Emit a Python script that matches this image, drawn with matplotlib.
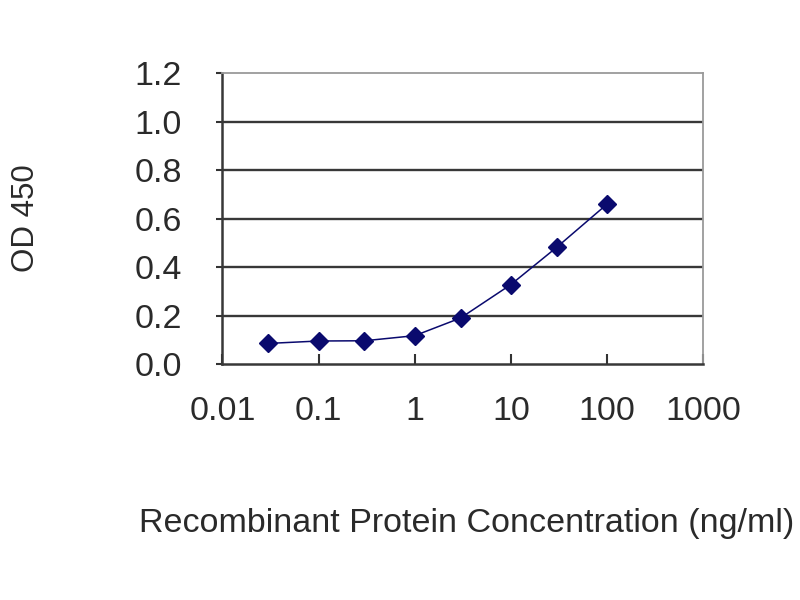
import matplotlib
matplotlib.use("Agg")
import matplotlib.pyplot as plt
from matplotlib.ticker import FixedLocator, FixedFormatter, NullLocator

plt.rcParams['font.family'] = ['Liberation Sans', 'DejaVu Sans']

# Data
concentration = [0.03, 0.1, 0.3, 1, 3, 10, 30, 100]
od450 = [0.085, 0.095, 0.096, 0.117, 0.19, 0.328, 0.482, 0.66]
x_ticks = [0.01, 0.1, 1, 10, 100, 1000]
x_tick_labels = ["0.01", "0.1", "1", "10", "100", "1000"]
y_ticks = [0.0, 0.2, 0.4, 0.6, 0.8, 1.0, 1.2]
y_tick_labels = ["0.0", "0.2", "0.4", "0.6", "0.8", "1.0", "1.2"]

fig = plt.figure(figsize=(8, 6), dpi=100)
ax = fig.add_axes([0.278, 0.3933, 0.601, 0.4845])

ax.set_xscale('log')
ax.set_xlim(0.01, 1000)
ax.set_ylim(0, 1.2)

ax.grid(False)
for yv in y_ticks[1:-1]:
    ax.axhline(yv, color='#383838', lw=1.7, zorder=1)

navy = '#0a0a6e'
ax.plot(concentration, od450, color=navy, lw=1.1, zorder=3)
ax.plot(concentration, od450, linestyle='none', marker='D', markersize=9,
        color=navy, markeredgecolor=navy, zorder=4)

ax.xaxis.set_major_locator(FixedLocator(x_ticks))
ax.xaxis.set_major_formatter(FixedFormatter(x_tick_labels))
ax.xaxis.set_minor_locator(NullLocator())
ax.yaxis.set_major_locator(FixedLocator(y_ticks))
ax.yaxis.set_major_formatter(FixedFormatter(y_tick_labels))

txt = '#2a2a2a'
ax.tick_params(axis='x', direction='in', length=7, width=1.5, colors='#333333',
               labelsize=24.5, pad=23, labelcolor=txt)
ax.tick_params(axis='y', direction='out', length=4, width=1.5, colors='#333333',
               labelsize=24.5, pad=25, labelcolor=txt)

for side in ['left', 'bottom']:
    ax.spines[side].set_color('#383838')
    ax.spines[side].set_linewidth(1.8)
for side in ['top', 'right']:
    ax.spines[side].set_color('#9a9a9a')
    ax.spines[side].set_linewidth(1.3)

fig.text(467 / 800, 1 - 532 / 600, "Recombinant Protein Concentration (ng/ml)",
         ha='center', va='baseline', fontsize=24.5, color=txt)
fig.text(26 / 800, 1 - 218 / 600, "OD 450", rotation=90, ha='center',
         va='center', fontsize=22.5, color=txt)

fig.savefig("out.png", dpi=100, facecolor='white')
